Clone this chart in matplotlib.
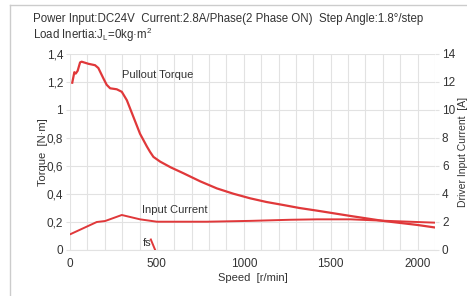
"""
Stepping motor speed-torque characteristic (pullout torque + driver input current).
"""

import matplotlib
matplotlib.use('Agg')
import matplotlib.pyplot as plt
from matplotlib.lines import Line2D
from matplotlib.ticker import MultipleLocator, FuncFormatter

plt.rcParams['font.family'] = ['Liberation Sans', 'DejaVu Sans']

# pullout torque [N*m] vs speed [r/min]
torque_speed = [13, 25, 33, 44, 58, 67, 106, 144, 163, 192, 211, 231, 269, 298, 327,
                365, 403, 442, 461, 480, 519, 580, 653, 750, 845, 940, 1037, 1130,
                1229, 1320, 1422, 1614, 1806, 1998, 2104]
torque = [1.195, 1.27, 1.26, 1.28, 1.34, 1.345, 1.33, 1.32, 1.30, 1.226, 1.18, 1.155,
          1.148, 1.13, 1.07, 0.95, 0.83, 0.74, 0.70, 0.665, 0.631, 0.59, 0.548, 0.49,
          0.44, 0.402, 0.369, 0.343, 0.321, 0.30, 0.281, 0.243, 0.207, 0.179, 0.16]

# driver input current [A] vs speed [r/min]
current_speed = [4, 154, 202, 298, 403, 500, 788, 1037, 1268, 1422, 1614, 1806, 2104]
current = [1.14, 2.0, 2.07, 2.5, 2.19, 2.02, 2.02, 2.08, 2.16, 2.19, 2.19, 2.09, 1.95]

# start frequency marker
fs_speed = [465, 490]
fs_torque = [0.075, 0.0]

red = '#e0383a'
grid_c = '#e2e2e2'
txt_c = '#333333'

fig = plt.figure(figsize=(4.67, 2.96), dpi=100)
ax = fig.add_axes([70/467, 1 - 250/296, 365/467, 196/296])
ax2 = ax.twinx()

ax.plot(torque_speed, torque, color=red, lw=1.6, zorder=3)
ax.plot(fs_speed, fs_torque, color=red, lw=1.4, zorder=3)
ax2.plot(current_speed, current, color=red, lw=1.4, zorder=3)

ax.set_xlim(0, 2100)
ax.set_ylim(0, 1.4)
ax2.set_ylim(0, 14)

ax.xaxis.set_major_locator(MultipleLocator(500))
ax.xaxis.set_minor_locator(MultipleLocator(100))
ax.yaxis.set_major_locator(MultipleLocator(0.2))
ax2.yaxis.set_major_locator(MultipleLocator(2))
ax.yaxis.set_major_formatter(FuncFormatter(lambda v, p: ('%g' % round(v, 2)).replace('.', ',')))

ax.grid(True, which='both', axis='x', color=grid_c, lw=0.8)
ax.grid(True, which='major', axis='y', color=grid_c, lw=0.8)
ax.set_axisbelow(True)

for a in (ax, ax2):
    for s in a.spines.values():
        s.set_visible(False)
ax.spines['bottom'].set_visible(True)
ax.spines['bottom'].set_color(grid_c)

ax.tick_params(axis='x', which='both', length=0, labelsize=8.5, colors=txt_c, pad=6)
ax.tick_params(axis='y', length=3, color=grid_c, labelsize=8.5, labelcolor=txt_c, pad=2)
ax2.tick_params(axis='y', length=3, color=grid_c, labelsize=8.5, labelcolor=txt_c, pad=2)

ax.set_xlabel('Speed  [r/min]', fontsize=8, color=txt_c, labelpad=2)
ax.set_ylabel('Torque  [N·m]', fontsize=8, color=txt_c, labelpad=-1)
ax2.set_ylabel('Driver Input Current  [A]', fontsize=7.5, color=txt_c, labelpad=2)

ax.text(300, 1.25, 'Pullout Torque', fontsize=8, color=txt_c, va='center')
ax.text(415, 0.285, 'Input Current', fontsize=8, color=txt_c, va='center')
ax.text(420, 0.05, 'fs', fontsize=8, color=txt_c, va='center')

fig.text(33/467, 1 - 19/296, 'Power Input:DC24V  Current:2.8A/Phase(2 Phase ON)  Step Angle:1.8°/step',
         fontsize=8.3, color=txt_c, va='center')
fig.text(33/467, 1 - 35/296, r'Load Inertia:J$_{\mathregular{L}}$=0kg·m$^{\mathregular{2}}$',
         fontsize=8.3, color=txt_c, va='center')

# light frame around the figure (left and top edges)
fig.add_artist(Line2D([10/467, 10/467], [0, 1 - 5/296], color='#cccccc', lw=1))
fig.add_artist(Line2D([10/467, 1], [1 - 5/296, 1 - 5/296], color='#cccccc', lw=1))

fig.savefig('out.png', dpi=100)
